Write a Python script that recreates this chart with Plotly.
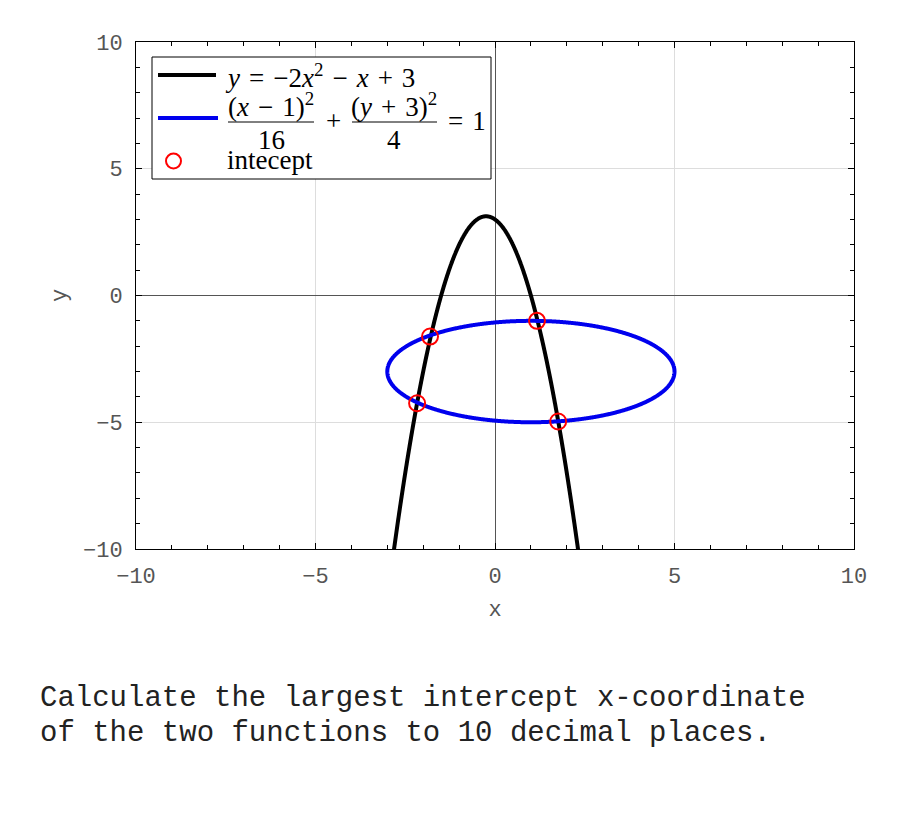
import numpy as np
import plotly.graph_objects as go

# ---- data ----
parab_coef = [-2.0, -1.0, 3.0]          # y = a x^2 + b x + c
ellipse_center = [1.0, -3.0]
ellipse_axes = [4.0, 2.0]               # semi-axis in x, y
intercept_x = [-1.81, 1.17, -2.17, 1.76]
intercept_y = [-1.62, -1.00, -4.25, -4.97]
tick_vals = [-10, -5, 0, 5, 10]
question_lines = ["Calculate the largest intercept x-coordinate",
                  "of the two functions to 10 decimal places."]

xs = np.linspace(-3.2, 2.7, 1200)
ys = parab_coef[0] * xs**2 + parab_coef[1] * xs + parab_coef[2]
t = np.linspace(0, 2 * np.pi, 1441)
ex = ellipse_center[0] + ellipse_axes[0] * np.cos(t)
ey = ellipse_center[1] + ellipse_axes[1] * np.sin(t)

OFF = 8  # page body margin
W, H = 900 - OFF, 825 - OFF
L, R, T, B = 136, 854, 42, 549   # plot area in page pixels


def px(x):
    return (x - L) / (R - L)


def py(y):
    return (B - y) / (B - T)


fig = go.Figure()
fig.add_trace(go.Scatter(x=xs, y=ys, mode="lines",
                         line=dict(color="black", width=4, simplify=False),
                         showlegend=False, hoverinfo="skip"))
fig.add_trace(go.Scatter(x=ex, y=ey, mode="lines",
                         line=dict(color="#0000ee", width=4, simplify=False),
                         showlegend=False, hoverinfo="skip"))
fig.add_trace(go.Scatter(x=intercept_x, y=intercept_y, mode="markers",
                         marker=dict(symbol="circle-open", size=16, color="red",
                                     line=dict(width=2, color="red")),
                         showlegend=False, hoverinfo="skip"))

mono = "Liberation Mono, Courier New, monospace"
axis_common = dict(
    range=[-10, 10], tickvals=tick_vals, ticks="inside", ticklen=6, tickcolor="black",
    showline=True, linecolor="black", linewidth=1, mirror="ticks",
    showgrid=True, gridcolor="#dddddd", gridwidth=1,
    zeroline=True, zerolinecolor="#555555", zerolinewidth=1,
    minor=dict(dtick=1, ticks="inside", ticklen=4, tickcolor="black", showgrid=False),
    tickfont=dict(family=mono, size=22, color="#555555"),
    title_font=dict(family=mono, size=22, color="#555555"),
)

fig.update_xaxes(**axis_common, title_text="x", title_standoff=11, ticklabelstandoff=7)
fig.update_yaxes(**axis_common, title_text="y", title_standoff=10, ticklabelstandoff=8)

shapes = []
annotations = []
# legend box
shapes.append(dict(type="rect", xref="paper", yref="paper", x0=px(152), x1=px(491),
                   y0=py(179), y1=py(57), fillcolor="white", line=dict(color="black", width=1),
                   layer="above"))
shapes.append(dict(type="line", xref="paper", yref="paper", x0=px(158), x1=px(216),
                   y0=py(75), y1=py(75), line=dict(color="black", width=4), layer="above"))
shapes.append(dict(type="line", xref="paper", yref="paper", x0=px(158), x1=px(218),
                   y0=py(118), y1=py(118), line=dict(color="#0000ee", width=4), layer="above"))
shapes.append(dict(type="circle", xref="paper", yref="paper", x0=px(166), x1=px(181),
                   y0=py(168.5), y1=py(153.5), line=dict(color="red", width=2), layer="above"))
# fraction bars
shapes.append(dict(type="line", xref="paper", yref="paper", x0=px(228), x1=px(314),
                   y0=py(122), y1=py(122), line=dict(color="black", width=1), layer="above"))
shapes.append(dict(type="line", xref="paper", yref="paper", x0=px(352), x1=px(437),
                   y0=py(122), y1=py(122), line=dict(color="black", width=1), layer="above"))

serif = "Liberation Serif, Times New Roman, serif"
sp = "\u2004"


def ann(x, y, text, size=27, xanchor="center"):
    annotations.append(dict(xref="paper", yref="paper", x=px(x), y=py(y), text=text,
                            showarrow=False, xanchor=xanchor, yanchor="middle",
                            font=dict(family=serif, size=size, color="black")))


ann(223, 76, f"<i>y</i>{sp}={sp}−2<i>x</i><sup>2</sup>{sp}−{sp}<i>x</i>{sp}+{sp}3", xanchor="left")
ann(271, 105, f"(<i>x</i>{sp}−{sp}1)<sup>2</sup>")
ann(271, 140, "16")
ann(333, 121, "+")
ann(394, 105, f"(<i>y</i>{sp}+{sp}3)<sup>2</sup>")
ann(394, 140, "4")
ann(446, 121, f"={sp}1", xanchor="left")
ann(225, 160, "intecept", xanchor="left")

for line, yc in zip(question_lines, [698, 734]):
    annotations.append(dict(xref="paper", yref="paper", x=px(38), y=py(yc),
                            text=line, showarrow=False, xanchor="left", yanchor="middle",
                            align="left",
                            font=dict(family=mono, size=29, color="#222222")))

fig.update_layout(width=W, height=H,
                  margin=dict(l=L - OFF, r=W + OFF - R, t=T - OFF, b=H + OFF - B),
                  paper_bgcolor="white", plot_bgcolor="white",
                  shapes=shapes, annotations=annotations, showlegend=False)

fig.write_html("out.html")
